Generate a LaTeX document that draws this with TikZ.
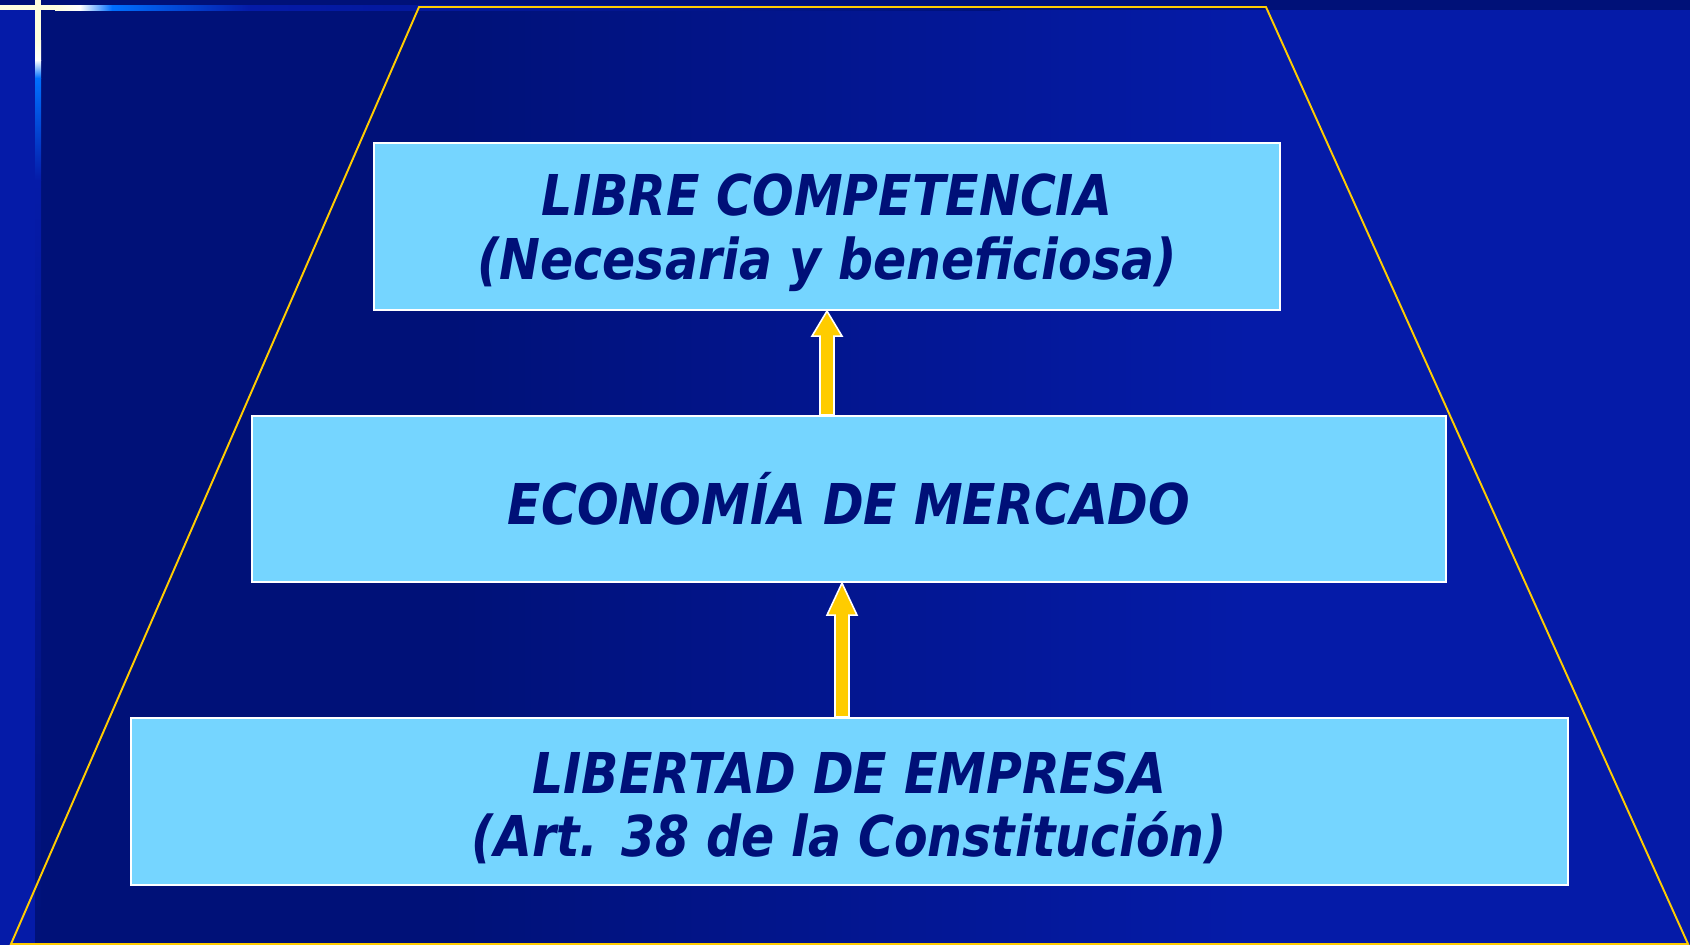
\documentclass[tikz,border=0pt]{standalone}
\usepackage{fontspec}
\setmainfont{DejaVu Sans}[FakeStretch=0.87,BoldItalicFont={DejaVu Sans Bold Oblique}]
\usepackage{tikz}
\usetikzlibrary{calc}

\definecolor{fondoOscuro}{RGB}{0,17,120}
\definecolor{fondoClaro}{RGB}{5,27,168}
\definecolor{crema}{RGB}{255,255,222}
\definecolor{azulBrillo}{RGB}{0,112,255}
\definecolor{cajaCeleste}{RGB}{117,213,255}
\definecolor{textoAzul}{RGB}{0,16,120}
\definecolor{amarilloFlecha}{RGB}{255,204,0}

\tikzset{
	caja/.style={rectangle, draw=white, line width=0.6pt, fill=cajaCeleste,
		text=textoAzul, align=center, inner sep=0pt,
		font=\fontsize{16}{18}\selectfont\bfseries\itshape},
	flecha/.style={draw=white, line width=0.45pt, fill=amarilloFlecha, line join=miter},
	borde/.style={draw=amarilloFlecha, line width=0.55pt},
}

% strut so the two-line texts sit a little low
\newcommand{\alto}{\rule{0pt}{0.54cm}}

% #1 = base, #2 = tip, #3 = head length
\newcommand{\flechaArriba}[3]{%
	\path[flecha] ($(#1)+(-7,0)$) -- ($(#2)+(-7,#3)$) -- ($(#2)+(-15,#3)$) -- (#2)
		-- ($(#2)+(15,#3)$) -- ($(#2)+(7,#3)$) -- ($(#1)+(7,0)$) -- cycle;}

\begin{document}
\begin{tikzpicture}[x=0.01cm, y=-0.01cm]

	% Proper size --- Bounding box
	\useasboundingbox (0,0) rectangle (1690,945);
	
	% ------------------------------------------------
	% BACKGROUND
	% ------------------------------------------------
	\fill[fondoOscuro] (0,0) rectangle (1690,945);
	\fill[fondoClaro] (0,10) rectangle (35,945);
	\fill[fondoOscuro] (41,10) rectangle (450,945);
	\shade[left color=fondoOscuro, right color=fondoClaro] (450,10) rectangle (1250,945);
	\fill[fondoClaro] (1250,10) rectangle (1690,945);
	
	% Top line
	\fill[crema] (0,5) rectangle (55,10);
	\shade[left color=crema, right color=white] (55,5) rectangle (80,10);
	\shade[left color=white, right color=azulBrillo] (80,5) rectangle (112,10);
	\shade[left color=azulBrillo, right color=fondoClaro] (112,5) rectangle (250,10);
	\shade[left color=fondoClaro, right color=fondoOscuro] (250,5) rectangle (1000,10);
	
	% Left line
	\fill[crema] (35,0) rectangle (41,40);
	\shade[top color=crema, bottom color=white] (35,40) rectangle (41,60);
	\shade[top color=white, bottom color=azulBrillo] (35,60) rectangle (41,78);
	\shade[top color=azulBrillo, bottom color=fondoClaro] (35,78) rectangle (41,180);
	\shade[top color=fondoClaro, bottom color=fondoOscuro] (35,180) rectangle (41,945);
	
	% Trapezoid
	\coordinate (T1) at (419,7);
	\coordinate (T2) at (1266,7);
	\coordinate (T3) at (1688,944);
	\coordinate (T4) at (11,944);
	\draw[borde] (T1) -- (T2) -- (T3) -- (T4) -- cycle;
	
	% ------------------------------------------------
	% BOXES
	% ------------------------------------------------
	\node[caja, minimum width=9.06cm, minimum height=1.67cm] (libre) at (827,226.5)
		{\alto LIBRE COMPETENCIA\\(Necesaria y beneficiosa)};
	\node[caja, minimum width=11.94cm, minimum height=1.66cm] (economia) at (849,499)
		{ECONOMÍA DE MERCADO};
	\node[caja, minimum width=14.37cm, minimum height=1.67cm] (libertad) at (849.5,801.5)
		{\alto LIBERTAD DE EMPRESA\\(Art. 38 de la Constitución)};
	
	% Arrows
	\coordinate (A1) at (economia.north -| libre.south);
	\coordinate (B2) at ($(economia.south)+(-7,0)$);
	\coordinate (A2) at (libertad.north -| B2);
	
	\flechaArriba{A1}{libre.south}{25}
	\flechaArriba{A2}{B2}{32}
	
\end{tikzpicture}
\end{document}
